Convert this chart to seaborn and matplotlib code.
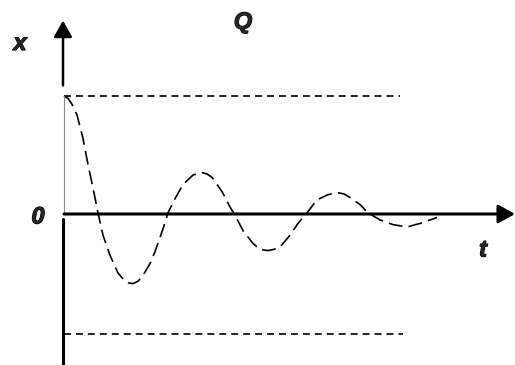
import matplotlib
matplotlib.use("Agg")
import matplotlib.pyplot as plt
import matplotlib.patheffects as pe
import seaborn as sns
import pandas as pd

# damped oscillation (t in arbitrary units, x normalised to the amplitude)
t_vals = [0.0, 0.4, 0.8, 1.3, 1.9, 2.4, 2.9, 3.4, 3.9, 4.6, 5.4, 6.1, 6.5, 6.9,
          7.4, 7.9, 8.6, 9.1, 9.6, 10.0, 10.4, 11.1, 11.9, 12.9, 13.4, 13.8,
          14.3, 14.8, 15.8, 16.6, 17.1, 17.9, 18.9, 19.6, 20.0, 20.4, 21.0,
          21.6, 22.6, 23.4, 24.3, 25.3, 26.3, 26.9, 27.4, 28.0, 28.6, 29.6,
          30.4, 31.6, 32.9, 34.3, 35.6, 37.3]
x_vals = [1.00, 0.98, 0.93, 0.84, 0.64, 0.42, 0.22, 0.01, -0.18, -0.35, -0.50,
          -0.57, -0.585, -0.59, -0.57, -0.52, -0.42, -0.32, -0.20, -0.10, 0.01,
          0.13, 0.25, 0.33, 0.345, 0.35, 0.34, 0.31, 0.19, 0.06, -0.01, -0.14,
          -0.25, -0.30, -0.305, -0.31, -0.30, -0.28, -0.18, -0.08, 0.01, 0.12,
          0.16, 0.175, 0.18, 0.17, 0.14, 0.08, 0.01, -0.05, -0.09, -0.11,
          -0.08, -0.03]

# envelope bounds (dotted lines)
upper_bound = 1.0
lower_bound = -1.02
upper_end = 33.6
lower_end = 33.9

labels = {"x": "x", "title": "Q", "origin": "0", "t": "t"}

df = pd.DataFrame({"t": t_vals, "x": x_vals})

sns.set_style("white")
plt.rcParams["font.family"] = ["Liberation Sans", "DejaVu Sans"]
plt.rcParams["lines.scale_dashes"] = False

fig = plt.figure(figsize=(5.15, 3.65), dpi=100)
ax = fig.add_axes([0, 0, 1, 1])
ax.set_xlim(-6.4, 45.1)
ax.set_ylim(-1.28, 1.814)
ax.axis("off")

# curve
sns.lineplot(data=df, x="t", y="x", ax=ax, color="black", lw=1.2,
             linestyle=(0, (10, 4.5)), sort=False)

# dotted bounds
ax.plot([0, upper_end], [upper_bound, upper_bound], color="black", lw=1.2,
        linestyle=(0, (5, 3.6)))
ax.plot([0, lower_end], [lower_bound, lower_bound], color="black", lw=1.2,
        linestyle=(0, (5, 3.6)))

# axes drawn by hand
ax.annotate("", xy=(45.1, 0), xytext=(0, 0),
            arrowprops=dict(arrowstyle="-|>,head_length=0.5,head_width=0.28",
                            mutation_scale=20, lw=2.2, color="black",
                            shrinkA=0, shrinkB=0))
ax.annotate("", xy=(-0.1, 1.64), xytext=(-0.1, 1.09),
            arrowprops=dict(arrowstyle="-|>,head_length=0.5,head_width=0.28",
                            mutation_scale=20, lw=1.8, color="black",
                            shrinkA=0, shrinkB=0))
ax.plot([0, 0], [0, upper_bound], color="#8c8c8c", lw=0.8)
ax.plot([-0.1, -0.1], [-0.04, -1.3], color="black", lw=2.2)

# labels
font = dict(fontsize=17, fontweight="bold", fontstyle="italic",
            ha="center", va="baseline",
            path_effects=[pe.withStroke(linewidth=0.8, foreground="black")])
ax.text(-4.4, 1.39, labels["x"], **font)
ax.text(17.9, 1.57, labels["title"], **font)
ax.text(-2.6, -0.08, labels["origin"], **font)
ax.text(41.9, -0.36, labels["t"], **font)

fig.savefig("out.png", dpi=100)
